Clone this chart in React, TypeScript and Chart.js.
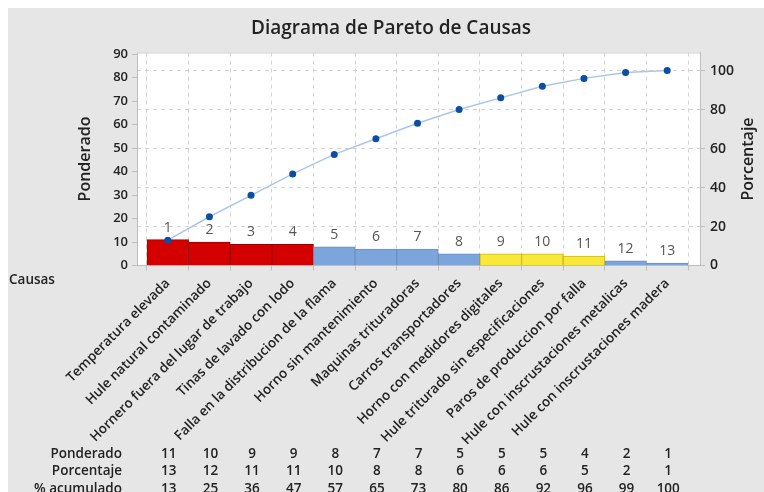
import React, { useEffect, useRef } from "react";
import { Chart, registerables } from "chart.js";

Chart.register(...registerables);

const title = "Diagrama de Pareto de Causas";
const categories = [
  "Temperatura elevada",
  "Hule natural contaminado",
  "Hornero fuera del lugar de trabajo",
  "Tinas de lavado con lodo",
  "Falla en la distribucion de la flama",
  "Horno sin mantenimiento",
  "Maquinas trituradoras",
  "Carros transportadores",
  "Horno con medidores digitales",
  "Hule triturado sin especificaciones",
  "Paros de produccion por falla",
  "Hule con inscrustaciones metalicas",
  "Hule con inscrustaciones madera",
];
const ponderado = [11, 10, 9, 9, 8, 7, 7, 5, 5, 5, 4, 2, 1];
const porcentaje = [13, 12, 11, 11, 10, 8, 8, 6, 6, 6, 5, 2, 1];
const acumulado = [13, 25, 36, 47, 57, 65, 73, 80, 86, 92, 96, 99, 100];
const rowLabels = ["Ponderado", "Porcentaje", "% acumulado"];
const leftTicksMax = 90.7;

const RED = "#d40000";
const BLUE = "#7ca6db";
const YELLOW = "#f9e83a";
const barColors = [RED, RED, RED, RED, BLUE, BLUE, BLUE, BLUE, YELLOW, YELLOW, YELLOW, BLUE, BLUE];
const barBorders = barColors.map((c) => (c === RED ? "#9a0000" : c === BLUE ? "#6a8fbf" : "#c9b820"));

const FONT = "'Open Sans', 'DejaVu Sans', sans-serif";
const total = ponderado.reduce((a, b) => a + b, 0);

const decorPlugin = {
  id: "decor",
  beforeDraw(chart: any) {
    const { ctx, chartArea: a, width, height } = chart;
    ctx.save();
    ctx.fillStyle = "#e6e6e6";
    ctx.fillRect(0, 0, width, height);
    ctx.fillStyle = "#ffffff";
    ctx.fillRect(a.left, a.top, a.right - a.left, a.bottom - a.top);
    ctx.restore();
  },
  afterDatasetsDraw(chart: any) {
    const { ctx } = chart;
    const meta = chart.getDatasetMeta(1);
    ctx.save();
    ctx.font = `400 14px ${FONT}`;
    ctx.fillStyle = "#555555";
    ctx.textAlign = "center";
    ctx.textBaseline = "bottom";
    meta.data.forEach((el: any, i: number) => {
      ctx.fillText(String(i + 1), el.x, el.y - 5);
    });
    ctx.restore();
  },
  afterDraw(chart: any) {
    const { ctx, chartArea: a } = chart;
    const xs = chart.scales.x;
    ctx.save();
    ctx.strokeStyle = "#cfcfcf";
    ctx.lineWidth = 1;
    ctx.beginPath();
    ctx.moveTo(a.left, a.top + 0.5);
    ctx.lineTo(a.right, a.top + 0.5);
    ctx.stroke();
    ctx.fillStyle = "#222222";
    ctx.font = `600 16px ${FONT}`;
    ctx.textAlign = "center";
    ctx.textBaseline = "middle";
    ctx.translate(a.right + 48, (a.top + a.bottom) / 2);
    ctx.rotate(-Math.PI / 2);
    ctx.fillText("Porcentaje", 0, 0);
    ctx.restore();

    ctx.save();
    ctx.fillStyle = "#222222";
    ctx.font = `600 13.5px ${FONT}`;
    ctx.textBaseline = "middle";
    ctx.textAlign = "left";
    ctx.fillText("Causas", 1, a.bottom + 14.5);
    const rows = [ponderado, porcentaje, acumulado];
    rows.forEach((vals, r) => {
      const y = a.bottom + 188.5 + r * 17.5;
      ctx.textAlign = "right";
      ctx.fillText(rowLabels[r], a.left - 15, y);
      ctx.textAlign = "center";
      vals.forEach((v, i) => {
        ctx.fillText(String(v), xs.getPixelForValue(i) + 1, y);
      });
    });
    ctx.restore();
  },
};

export default function App() {
  const ref = useRef<HTMLCanvasElement | null>(null);
  useEffect(() => {
    if (!ref.current) return;
    const chart = new Chart(ref.current, {
      type: "bar",
      data: {
        datasets: [
          {
            type: "line",
            label: "% acumulado",
            data: acumulado.map((v, i) => ({ x: i, y: v })),
            yAxisID: "y1",
            xAxisID: "x",
            borderColor: "#a9c6ea",
            borderWidth: 1.5,
            tension: 0,
            pointRadius: 3.5,
            pointBorderWidth: 0,
            pointBackgroundColor: "#0b4ea3",
            order: 0,
          } as any,
          {
            type: "bar",
            label: "Ponderado",
            data: ponderado.map((v, i) => ({ x: i, y: v })),
            yAxisID: "y",
            xAxisID: "x",
            backgroundColor: barColors,
            borderColor: barBorders,
            borderWidth: 1,
            barPercentage: 1,
            categoryPercentage: 1,
            order: 1,
          } as any,
        ],
      },
      options: {
        animation: false,
        responsive: true,
        maintainAspectRatio: false,
        layout: { padding: { left: 10, right: 0, top: 0, bottom: 0 } },
        plugins: {
          legend: { display: false },
          tooltip: { enabled: false },
          title: {
            display: true,
            text: title,
            color: "#222222",
            font: { family: FONT, size: 19, weight: "600" as any, lineHeight: 1.2 },
            padding: { top: 9.5, bottom: 12.2 },
          },
        },
        scales: {
          x: {
            type: "linear",
            min: -0.74,
            max: 12.788,
            offset: false,
            afterFit: (s: any) => {
              s.height = 242.5;
            },
            grid: {
              color: "#d4d4d4",
              borderDash: [4, 4],
              tickColor: "#bdbdbd",
              tickLength: 5,
              drawTicks: true,
            } as any,
            border: { display: true, color: "#bdbdbd", dash: [4, 4] } as any,
            ticks: {
              stepSize: 1,
              includeBounds: false,
              autoSkip: false,
              maxRotation: 45,
              minRotation: 45,
              padding: 5,
              color: "#222222",
              font: { family: FONT, size: 13.5, weight: "600" as any },
              callback: (v: any) => {
                const n = Number(v);
                return Number.isInteger(n) && categories[n] ? categories[n] : "";
              },
            } as any,
          },
          y: {
            type: "linear",
            position: "left",
            min: 0,
            max: leftTicksMax,
            afterFit: (s: any) => {
              s.width = 119;
            },
            grid: { drawOnChartArea: false, tickLength: 5, tickColor: "#bdbdbd" },
            border: { display: true, color: "#bdbdbd" },
            ticks: {
              stepSize: 10,
              includeBounds: false,
              padding: 4,
              color: "#222222",
              font: { family: FONT, size: 13, weight: "600" as any },
            } as any,
            title: {
              display: true,
              text: "Ponderado",
              color: "#222222",
              font: { family: FONT, size: 16, weight: "600" as any, lineHeight: 1.2 },
              padding: { top: 57.9, bottom: 0 },
            },
          },
          y1: {
            type: "linear",
            position: "right",
            min: 0,
            max: (leftTicksMax * 100) / total,
            afterFit: (s: any) => {
              s.width = 64;
            },
            grid: {
              drawOnChartArea: true,
              color: "#d4d4d4",
              borderDash: [4, 4],
              tickLength: 5,
              tickColor: "#bdbdbd",
            } as any,
            border: { display: true, color: "#bdbdbd", dash: [4, 4] } as any,
            ticks: {
              stepSize: 20,
              includeBounds: false,
              padding: 5,
              color: "#222222",
              font: { family: FONT, size: 14, weight: "600" as any },
            } as any,
          },
        },
      },
      plugins: [decorPlugin],
    });
    return () => chart.destroy();
  }, []);

  return (
    <div
      style={{
        position: "fixed",
        left: 8,
        top: 8,
        width: 756,
        height: 500,
        background: "#e6e6e6",
      }}
    >
      <canvas ref={ref} />
    </div>
  );
}
